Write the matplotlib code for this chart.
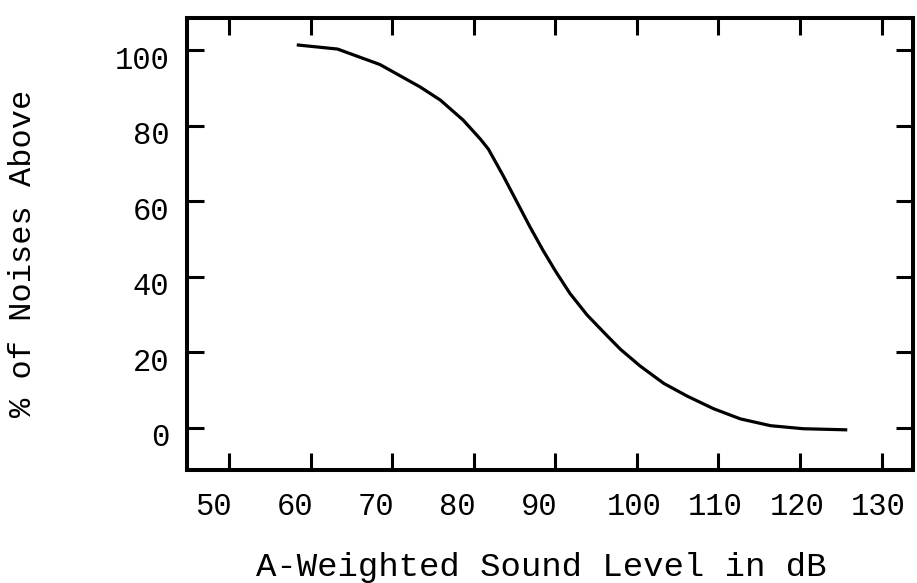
import matplotlib
matplotlib.use('Agg')
import matplotlib.pyplot as plt
import matplotlib.transforms as mtransforms

plt.rcParams['font.family'] = ['Liberation Mono', 'DejaVu Sans Mono']

# A-weighted level (dB) vs. percent of noises above that level
level_db = [58.3, 63.3, 68.5, 73.4, 75.9, 78.7, 80.8, 81.8, 83.6, 85.3,
            86.9, 88.5, 90.0, 91.8, 93.9, 96.4, 98.0, 100.4, 103.3, 106.2,
            109.4, 112.7, 116.4, 120.4, 125.8]
pct_above = [101.4, 100.3, 96.2, 90.3, 86.8, 81.5, 76.5, 73.8, 66.8, 59.8,
             53.2, 47.0, 41.6, 35.6, 29.9, 24.3, 20.8, 16.4, 11.8, 8.4,
             5.1, 2.4, 0.6, -0.2, -0.5]

x_ticks = [50, 60, 70, 80, 90, 100, 110, 120, 130]
y_ticks = [0, 20, 40, 60, 80, 100]

fig = plt.figure(figsize=(9.17, 5.83), dpi=100)
ax = fig.add_axes([0.204, 0.194, 0.792, 0.775])

ax.plot(level_db, pct_above, color='black', lw=2.3,
        solid_capstyle='butt', solid_joinstyle='round')

ax.set_xlim(44.85, 133.9)
ax.set_ylim(-11.1, 108.5)
ax.set_xticks(x_ticks)
ax.set_xticklabels([str(v) for v in x_ticks])
ax.set_yticks(y_ticks)
ax.set_yticklabels([str(v) for v in y_ticks])

for side in ['left', 'right', 'top', 'bottom']:
    ax.spines[side].set_linewidth(2.9)

ax.tick_params(direction='in', length=12, width=2.2, top=True, right=True,
               labelsize=22, color='black')
ax.tick_params(axis='x', pad=16)
ax.tick_params(axis='y', pad=13)

# typed labels sit a bit left of / below their ticks
for lab, v in zip(ax.get_xticklabels(), x_ticks):
    dx = -16 if v < 100 else -3
    lab.set_transform(lab.get_transform() +
                      mtransforms.ScaledTranslation(dx / 100, 0, fig.dpi_scale_trans))
for lab in ax.get_yticklabels():
    lab.set_transform(lab.get_transform() +
                      mtransforms.ScaledTranslation(0, -7 / 100, fig.dpi_scale_trans))

fig.text(0.59, 0.026, 'A-Weighted Sound Level in dB', fontsize=24.5,
         ha='center', va='center')
fig.text(0.025, 0.566, '% of Noises Above', fontsize=23, rotation=90,
         ha='center', va='center')

fig.savefig('out.png', dpi=100)
